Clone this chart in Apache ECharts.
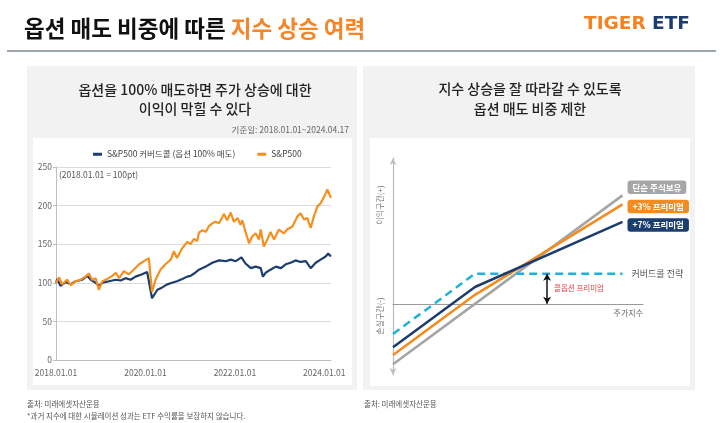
<!DOCTYPE html>
<html>
<head>
<meta charset="utf-8">
<script src="https://cdn.jsdelivr.net/npm/echarts@6/dist/echarts.min.js"></script>
<style>
html, body { margin: 0; padding: 0; background: #fff; }
#main { width: 721px; height: 423px; }
</style>
</head>
<body>
<div id="main"></div>
<script>
// 왼쪽: S&P500 vs 커버드콜 (2018.01.01 = 100pt)
var spName = 'S&P500';
var ccName = 'S&P500 커버드콜 (옵션 100% 매도)';

var spDates = [
    '2018-01-01', '2018-01-27', '2018-02-20', '2018-04-01', '2018-04-30', '2018-06-10', '2018-07-20', '2018-08-29',
    '2018-09-27', '2018-10-23', '2018-11-21', '2018-12-16', '2019-01-15', '2019-02-24', '2019-04-05', '2019-05-04',
    '2019-05-30', '2019-07-09', '2019-08-18', '2019-09-27', '2019-11-10', '2019-12-20', '2020-01-29', '2020-02-24',
    '2020-03-24', '2020-05-03', '2020-06-12', '2020-07-26', '2020-08-21', '2020-09-15', '2020-10-29', '2020-12-08',
    '2021-01-04', '2021-02-02', '2021-02-27', '2021-03-14', '2021-04-09', '2021-05-08', '2021-06-02', '2021-07-01',
    '2021-07-27', '2021-08-25', '2021-10-04', '2021-10-30', '2021-11-28', '2021-12-24', '2022-01-22', '2022-02-16',
    '2022-03-03', '2022-03-29', '2022-04-27', '2022-05-22', '2022-06-21', '2022-07-16', '2022-07-31', '2022-08-25',
    '2022-09-23', '2022-10-19', '2022-11-17', '2022-12-27', '2023-02-06', '2023-03-03', '2023-04-16', '2023-05-26',
    '2023-06-21', '2023-07-20', '2023-08-14', '2023-09-12', '2023-10-08', '2023-11-06', '2023-12-02', '2024-01-01',
    '2024-01-26', '2024-02-24'
];
var spValues = [
    100, 107, 98, 104, 97, 102, 104, 108,
    112, 104, 106, 91, 102, 105, 109, 113,
    106, 115, 111, 117, 124, 128, 132, 88,
    104, 117, 124, 130, 141, 132, 145, 153,
    150, 157, 154, 165, 168, 166, 173, 177,
    179, 177, 189, 181, 191, 179, 184, 175,
    181, 166, 151, 160, 164, 156, 169, 147,
    156, 166, 156, 169, 164, 169, 173, 186,
    190, 182, 184, 171, 186, 199, 203, 212,
    221, 210
];

var ccDates = [
    '2018-01-01', '2018-01-12', '2018-02-06', '2018-03-22', '2018-04-30', '2018-06-10', '2018-08-04', '2018-09-13',
    '2018-10-12', '2018-11-21', '2018-12-16', '2019-01-15', '2019-03-10', '2019-05-04', '2019-06-13', '2019-07-23',
    '2019-09-02', '2019-10-12', '2019-12-05', '2020-01-15', '2020-02-24', '2020-04-08', '2020-05-18', '2020-06-27',
    '2020-08-06', '2020-09-15', '2020-10-29', '2020-12-08', '2021-01-04', '2021-02-02', '2021-03-14', '2021-05-08',
    '2021-07-01', '2021-08-25', '2021-10-19', '2021-11-28', '2022-01-08', '2022-02-24', '2022-03-29', '2022-05-11',
    '2022-06-21', '2022-07-31', '2022-08-18', '2022-09-09', '2022-10-19', '2022-12-02', '2023-01-12', '2023-02-20',
    '2023-04-01', '2023-05-11', '2023-06-21', '2023-08-03', '2023-09-12', '2023-10-23', '2023-12-02', '2024-01-12',
    '2024-02-02', '2024-02-24'
];
var ccValues = [
    100, 105, 96, 101, 98, 102, 104, 109,
    104, 100, 96, 100, 102, 104, 103, 106,
    104, 108, 111, 114, 80, 91, 94, 98,
    100, 102, 105, 108, 109, 112, 117, 121,
    126, 129, 128, 130, 128, 133, 125, 119,
    121, 119, 108, 113, 117, 121, 119, 124,
    126, 129, 127, 128, 119, 126, 130, 134,
    138, 134
];

// 오른쪽: 옵션 매도 비중별 손익 구조 (개념도)
var payoffX = [0, 10, 28];
var stockPayoff = [-10, 0, 18];
var coveredPayoff = [-5, 5, 5];
var prem3Payoff = [-8.5, 1.5, 16.5];
var prem7Payoff = [-7.2, 2.8, 13.6];
var premiumAt = 18.8;   // 콜옵션 프리미엄 화살표 위치
var premiumSize = 5;

var font = "'Noto Sans CJK KR', 'Noto Sans', sans-serif";
var navy = '#1c3d70';
var orange = '#f5901f';

// 날짜 -> 연도(소수)
function toYear(s) {
    var d = Date.parse(s + 'T00:00:00Z');
    var y = new Date(d).getUTCFullYear();
    var a = Date.UTC(y, 0, 1), b = Date.UTC(y + 1, 0, 1);
    return y + (d - a) / (b - a);
}
function pairs(xs, ys, fx) {
    return xs.map(function (x, i) { return [fx ? fx(x) : x, ys[i]]; });
}

var myChart = echarts.init(document.getElementById('main'), null, { renderer: 'canvas' });

function payoffSeries(name, values, color, label) {
    return {
        name: name,
        type: 'line',
        xAxisIndex: 1,
        yAxisIndex: 1,
        data: pairs(payoffX, values),
        showSymbol: false,
        silent: true,
        lineStyle: { color: color, width: 2.5 },
        endLabel: label
    };
}

function tag(bg, dy) {
    return {
        show: true,
        formatter: '{a}',
        distance: 5,
        offset: [0, dy],
        color: '#fff',
        fontSize: 8.5,
        fontWeight: 'bold',
        fontFamily: font,
        backgroundColor: bg,
        borderRadius: 3,
        padding: [3, 5, 2, 5]
    };
}

option = {
    animation: false,
    textStyle: { fontFamily: font },
    graphic: [
        { type: 'text', x: 24, y: 28.5, style: {
            text: '{a|옵션 매도 비중에 따른 }{b|지수 상승 여력}',
            rich: { a: { fill: '#111' }, b: { fill: '#f4862a' } },
            fontSize: 22.5, fontWeight: 'bold', fontFamily: font, verticalAlign: 'middle' } },
        { type: 'text', x: 690, y: 24.5, style: {
            text: '{a|TIGER }{b|ETF}',
            rich: { a: { fill: '#f58220' }, b: { fill: '#1c3d70' } },
            fontSize: 18.5, fontWeight: 'bold', fontFamily: "'DejaVu Sans', sans-serif", align: 'right', verticalAlign: 'middle' } },
        { type: 'line', shape: { x1: 7, y1: 51, x2: 716, y2: 51 }, style: { stroke: '#7d8893', lineWidth: 1.5 } },

        { type: 'rect', z: -10, shape: { x: 27, y: 66, width: 330, height: 324 }, style: { fill: '#f2f2f2' } },
        { type: 'rect', z: -9, shape: { x: 33, y: 138, width: 319, height: 247 }, style: { fill: '#fff' } },
        { type: 'rect', z: -10, shape: { x: 363, y: 66, width: 332, height: 324 }, style: { fill: '#f2f2f2' } },
        { type: 'rect', z: -9, shape: { x: 370, y: 138, width: 320, height: 248 }, style: { fill: '#fff' } },

        { type: 'text', x: 195, y: 99, style: {
            text: '옵션을 100% 매도하면 주가 상승에 대한\n이익이 막힐 수 있다',
            fontSize: 14, fontWeight: 500, fontFamily: font, fill: '#222',
            lineHeight: 19, align: 'center', verticalAlign: 'middle' } },
        { type: 'text', x: 349, y: 130, style: {
            text: '기준일: 2018.01.01~2024.04.17', fontSize: 8.5, fontFamily: font, fill: '#666',
            align: 'right', verticalAlign: 'middle' } },
        { type: 'text', x: 59, y: 175, style: {
            text: '(2018.01.01 = 100pt)', fontSize: 8.5, fontFamily: font, fill: '#555', verticalAlign: 'middle' } },

        { type: 'text', x: 530, y: 99, style: {
            text: '지수 상승을 잘 따라갈 수 있도록\n옵션 매도 비중 제한',
            fontSize: 14, fontWeight: 500, fontFamily: font, fill: '#222',
            lineHeight: 20, align: 'center', verticalAlign: 'middle' } },
        { type: 'text', x: 380, y: 205, rotation: Math.PI / 2, style: {
            text: '이익구간(+)', fontSize: 8, fontFamily: font, fill: '#777', align: 'center', verticalAlign: 'middle' } },
        { type: 'text', x: 380, y: 316, rotation: Math.PI / 2, style: {
            text: '손실구간(-)', fontSize: 8, fontFamily: font, fill: '#777', align: 'center', verticalAlign: 'middle' } },
        { type: 'text', x: 643, y: 313, style: {
            text: '주가지수', fontSize: 8, fontFamily: font, fill: '#666', align: 'right', verticalAlign: 'middle' } },
        { type: 'text', x: 554, y: 288, style: {
            text: '콜옵션 프리미엄', fontSize: 7.5, fontFamily: font, fill: '#ee4444', verticalAlign: 'middle' } },

        { type: 'text', x: 27, y: 404, style: {
            text: '출처: 미래에셋자산운용', fontSize: 7.5, fontFamily: font, fill: '#555', verticalAlign: 'middle' } },
        { type: 'text', x: 27, y: 416, style: {
            text: '*과거 지수에 대한 시뮬레이션 성과는 ETF 수익률을 보장하지 않습니다.', fontSize: 7.5, fontFamily: font, fill: '#555', verticalAlign: 'middle' } },
        { type: 'text', x: 364, y: 404, style: {
            text: '출처: 미래에셋자산운용', fontSize: 7.5, fontFamily: font, fill: '#555', verticalAlign: 'middle' } }
    ],
    legend: {
        data: [ccName, spName],
        left: 88,
        top: 145,
        icon: 'rect',
        itemWidth: 9,
        itemHeight: 3,
        itemGap: 22,
        selectedMode: false,
        textStyle: { fontSize: 8.5, color: '#444', fontFamily: font }
    },
    grid: [
        { left: 56, top: 167, width: 275, height: 193 },
        { left: 393, top: 158, width: 250, height: 217 }
    ],
    xAxis: [{
        gridIndex: 0,
        type: 'value',
        min: 2018,
        max: 2024.15,
        interval: 2,
        axisLine: { lineStyle: { color: '#bfbfbf' } },
        axisTick: { show: false },
        splitLine: { show: false },
        axisLabel: {
            color: '#666', fontSize: 8.5, margin: 9, showMaxLabel: false,
            formatter: function (v) { return (v % 2 === 0) ? v + '.01.01' : ''; }
        }
    }, {
        gridIndex: 1,
        type: 'value',
        min: 0,
        max: 30.5,
        axisLine: { onZero: true, lineStyle: { color: '#9a9a9a', width: 1 } },
        axisTick: { show: false },
        axisLabel: { show: false },
        splitLine: { show: false }
    }],
    yAxis: [{
        gridIndex: 0,
        type: 'value',
        min: 0,
        max: 250,
        interval: 50,
        axisLine: { show: true, lineStyle: { color: '#bfbfbf' } },
        axisTick: { show: true, length: 3, lineStyle: { color: '#bfbfbf' } },
        splitLine: { lineStyle: { color: '#dcdcdc' } },
        axisLabel: { color: '#666', fontSize: 8.5, margin: 4 }
    }, {
        gridIndex: 1,
        type: 'value',
        min: -11.8,
        max: 24.2,
        axisLine: { show: true, symbol: ['arrow', 'arrow'], symbolSize: [5, 7], lineStyle: { color: '#bdbdbd', width: 1.2 } },
        axisTick: { show: false },
        axisLabel: { show: false },
        splitLine: { show: false }
    }],
    series: [
        {
            name: ccName,
            type: 'line',
            data: pairs(ccDates, ccValues, toYear),
            showSymbol: false,
            lineStyle: { color: navy, width: 2.2 },
            itemStyle: { color: navy }
        },
        {
            name: spName,
            type: 'line',
            data: pairs(spDates, spValues, toYear),
            showSymbol: false,
            lineStyle: { color: orange, width: 2.2 },
            itemStyle: { color: orange }
        },
        payoffSeries('단순 주식보유', stockPayoff, '#a5a5a5', tag('#a6a6a6', -8)),
        {
            name: '커버드콜 전략',
            type: 'line',
            xAxisIndex: 1,
            yAxisIndex: 1,
            data: pairs(payoffX, coveredPayoff),
            showSymbol: false,
            silent: true,
            lineStyle: { color: '#1fb1dc', width: 2.5, type: [8, 5] },
            endLabel: { show: true, formatter: '{a}', distance: 9, color: '#555', fontSize: 9, fontFamily: font },
            markLine: {
                silent: true,
                symbol: ['arrow', 'arrow'],
                symbolSize: [6, 7],
                label: { show: false },
                lineStyle: { color: '#111', type: 'solid', width: 1.5 },
                data: [[{ coord: [premiumAt, premiumSize] }, { coord: [premiumAt, 0] }]]
            }
        },
        payoffSeries('+3% 프리미엄', prem3Payoff, '#f58a1f', tag('#f58a1f', 2)),
        payoffSeries('+7% 프리미엄', prem7Payoff, navy, tag(navy, 3))
    ]
};
myChart.setOption(option);
</script>
</body>
</html>
